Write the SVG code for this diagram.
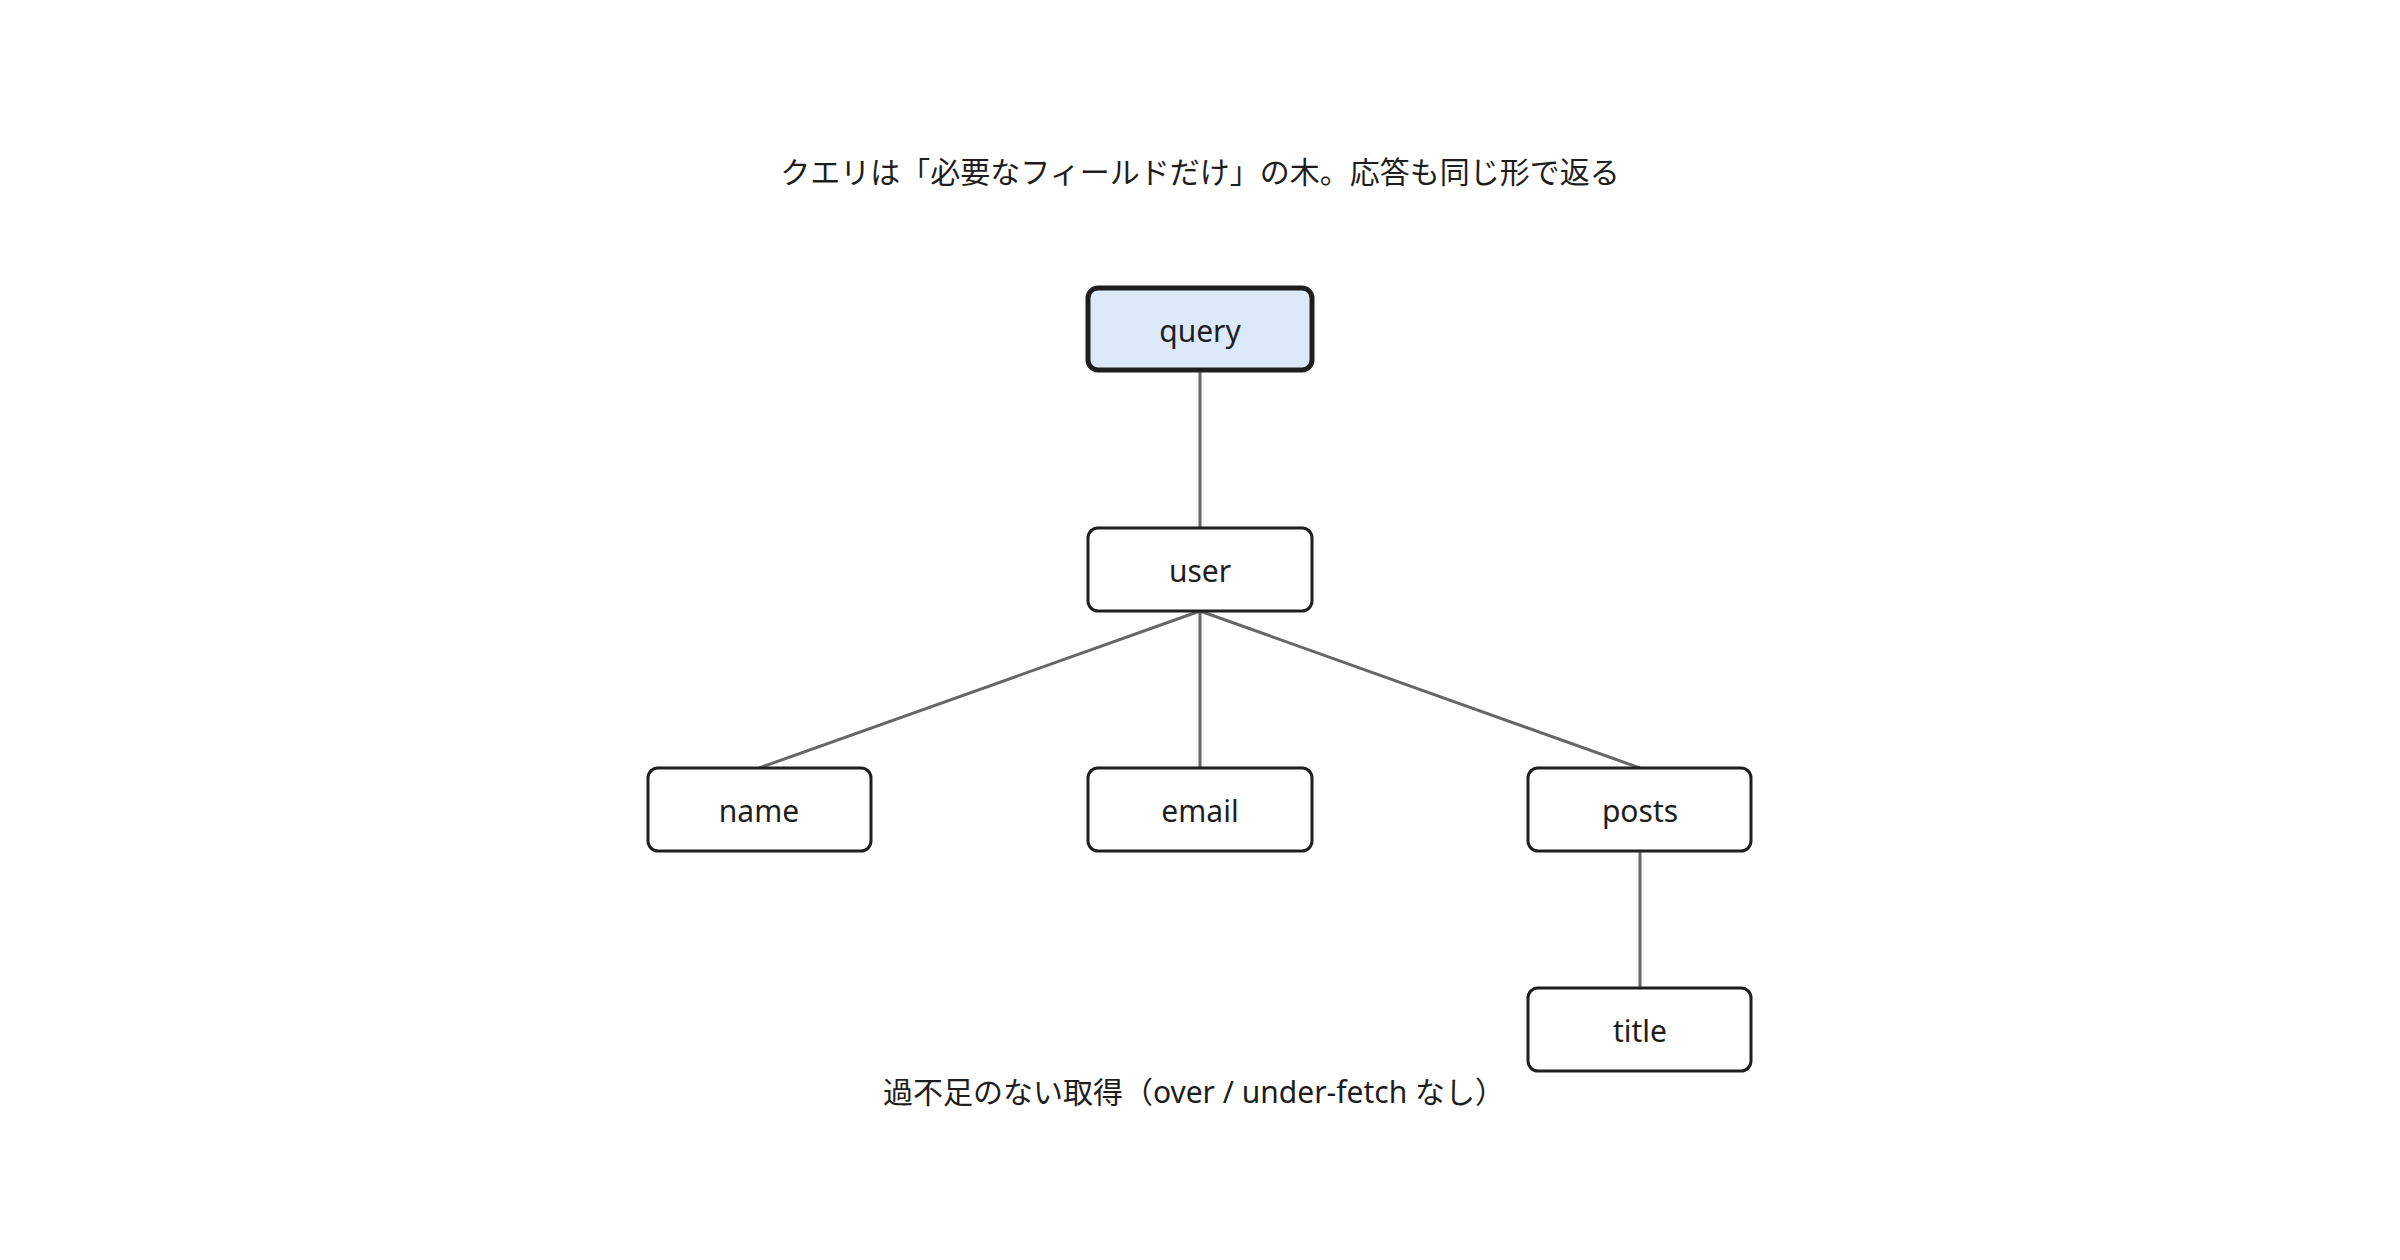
<svg xmlns="http://www.w3.org/2000/svg" width="2400" height="1260" viewBox="0 0 2400 1260">
<style>
.n{fill:#fff;stroke:#1e1e1e;stroke-width:3}
.q{fill:#dce9fb;stroke:#1e1e1e;stroke-width:5}
.t{font-family:"Noto Sans","Noto Sans CJK JP",sans-serif;font-size:30px;fill:#1e1e1e;text-anchor:middle;dominant-baseline:central}
.c{stroke:#666;stroke-width:3;fill:none}
</style>
<rect width="2400" height="1260" fill="#fff"/>
<text class="t" x="1200" y="171" font-size="28">クエリは「必要なフィールドだけ」の木。応答も同じ形で返る</text>
<g id="connectors">
<line class="c" x1="1200" y1="370" x2="1200" y2="528"/>
<line class="c" x1="1200" y1="611" x2="759" y2="768"/>
<line class="c" x1="1200" y1="611" x2="1200" y2="768"/>
<line class="c" x1="1200" y1="611" x2="1640" y2="768"/>
<line class="c" x1="1640" y1="851" x2="1640" y2="987"/>
</g>
<g id="query"><rect class="q" x="1088" y="288" width="224" height="82" rx="10"/><text class="t" x="1200" y="330">query</text></g>
<g id="user"><rect class="n" x="1088" y="528" width="224" height="83" rx="10"/><text class="t" x="1200" y="570">user</text></g>
<g id="name"><rect class="n" x="648" y="768" width="223" height="83" rx="10"/><text class="t" x="759" y="810">name</text></g>
<g id="email"><rect class="n" x="1088" y="768" width="224" height="83" rx="10"/><text class="t" x="1200" y="810">email</text></g>
<g id="posts"><rect class="n" x="1528" y="768" width="223" height="83" rx="10"/><text class="t" x="1640" y="810">posts</text></g>
<g id="title"><rect class="n" x="1528" y="988" width="223" height="83" rx="10"/><text class="t" x="1640" y="1030">title</text></g>
<text class="t" x="1194" y="1091" font-size="28">過不足のない取得（over / under-fetch なし）</text>
</svg>
